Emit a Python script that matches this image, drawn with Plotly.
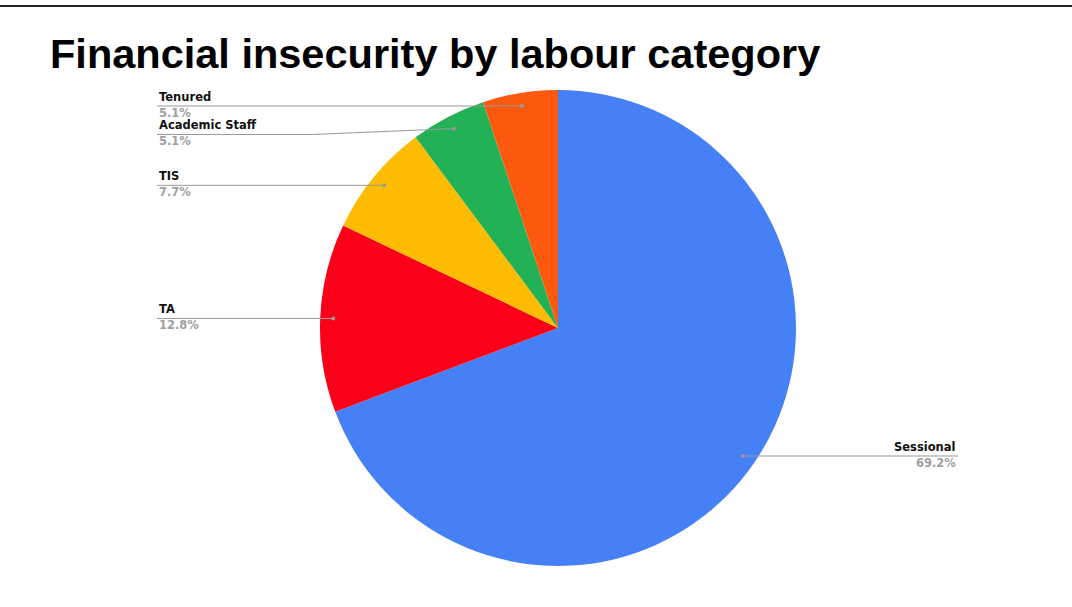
import math
import plotly.graph_objects as go

# ---- data ----
categories = ["Sessional", "TA", "TIS", "Academic Staff", "Tenured"]
percentages = [69.2, 12.8, 7.7, 5.1, 5.1]
colors = ["#4680F7", "#FC0019", "#FDBC00", "#22B155", "#FD5A10"]
title_text = "Financial insecurity by labour category"

# ---- layout constants (pixels) ----
W, H = 1072, 607
CX, CY, R = 558, 328, 238
DOT_R = 0.945 * R
LEFT_X, RIGHT_X = 157, 958
ELBOW_LEFT = 312
MIN_GAP = 28.5
LABEL_FONT = "DejaVu Sans, Verdana, sans-serif"
LABEL_SIZE = 11.5


def px(x):
    return x / W


def py(y):
    return 1 - y / H


fig = go.Figure(go.Pie(
    labels=categories,
    values=percentages,
    sort=False,
    direction="clockwise",
    rotation=0,
    marker=dict(colors=colors, line=dict(width=0)),
    textinfo="none",
    hoverinfo="label+percent",
    showlegend=False,
    domain=dict(x=[px(CX - R), px(CX + R)], y=[py(CY + R), py(CY - R)]),
))

# compute label anchor positions from the data
total = sum(percentages)
cum = 0
items = []
for name, val in zip(categories, percentages):
    mid = (cum + val / 2) / total * 2 * math.pi
    cum += val
    dx = math.sin(mid) * DOT_R
    dy = -math.cos(mid) * DOT_R
    items.append(dict(name=name, val=val, x=CX + dx, y=CY + dy, right=dx > 0))

shapes = [dict(type="line", xref="paper", yref="paper", x0=0, x1=1,
               y0=py(6), y1=py(6), line=dict(color="#222", width=2))]
annotations = [dict(text=f"<b>{title_text}</b>", x=px(48), y=py(53), xref="paper",
                    yref="paper", xanchor="left", yanchor="middle", showarrow=False,
                    font=dict(family="Liberation Sans, Arial", size=41.5, color="#000"))]

for side in (False, True):
    group = sorted([it for it in items if it["right"] == side], key=lambda d: d["y"])
    prev = -1e9
    for it in group:
        ly = max(it["y"], prev + MIN_GAP)
        prev = ly
        lx = RIGHT_X if side else LEFT_X
        if abs(ly - it["y"]) > 0.5 and not side:
            path = f"M {px(lx)} {py(ly)} L {px(ELBOW_LEFT)} {py(ly)} L {px(it['x'])} {py(it['y'])}"
        else:
            path = f"M {px(lx)} {py(ly)} L {px(it['x'])} {py(it['y'])}"
        shapes.append(dict(type="path", xref="paper", yref="paper", path=path,
                           line=dict(color="#9a9a9a", width=1)))
        shapes.append(dict(type="circle", xref="paper", yref="paper",
                           x0=px(it["x"] - 2), x1=px(it["x"] + 2),
                           y0=py(it["y"] - 2), y1=py(it["y"] + 2),
                           fillcolor="#9a9a9a", line=dict(width=0)))
        anchor = "right" if side else "left"
        annotations.append(dict(text=f"<b>{it['name']}</b>", x=px(lx), y=py(ly - 9),
                                xref="paper", yref="paper", xanchor=anchor,
                                yanchor="middle", showarrow=False,
                                font=dict(family=LABEL_FONT, size=LABEL_SIZE, color="#111")))
        annotations.append(dict(text=f"<b>{it['val']:.1f}%</b>", x=px(lx), y=py(ly + 7),
                                xref="paper", yref="paper", xanchor=anchor,
                                yanchor="middle", showarrow=False,
                                font=dict(family=LABEL_FONT, size=LABEL_SIZE, color="#a0a0a0")))

fig.update_layout(
    width=W, height=H,
    margin=dict(l=0, r=0, t=0, b=0),
    paper_bgcolor="white", plot_bgcolor="white",
    shapes=shapes, annotations=annotations,
)

fig.write_html("out.html", config={"displayModeBar": False},
               post_script="document.body.style.margin='0px';document.body.style.overflow='hidden';")
